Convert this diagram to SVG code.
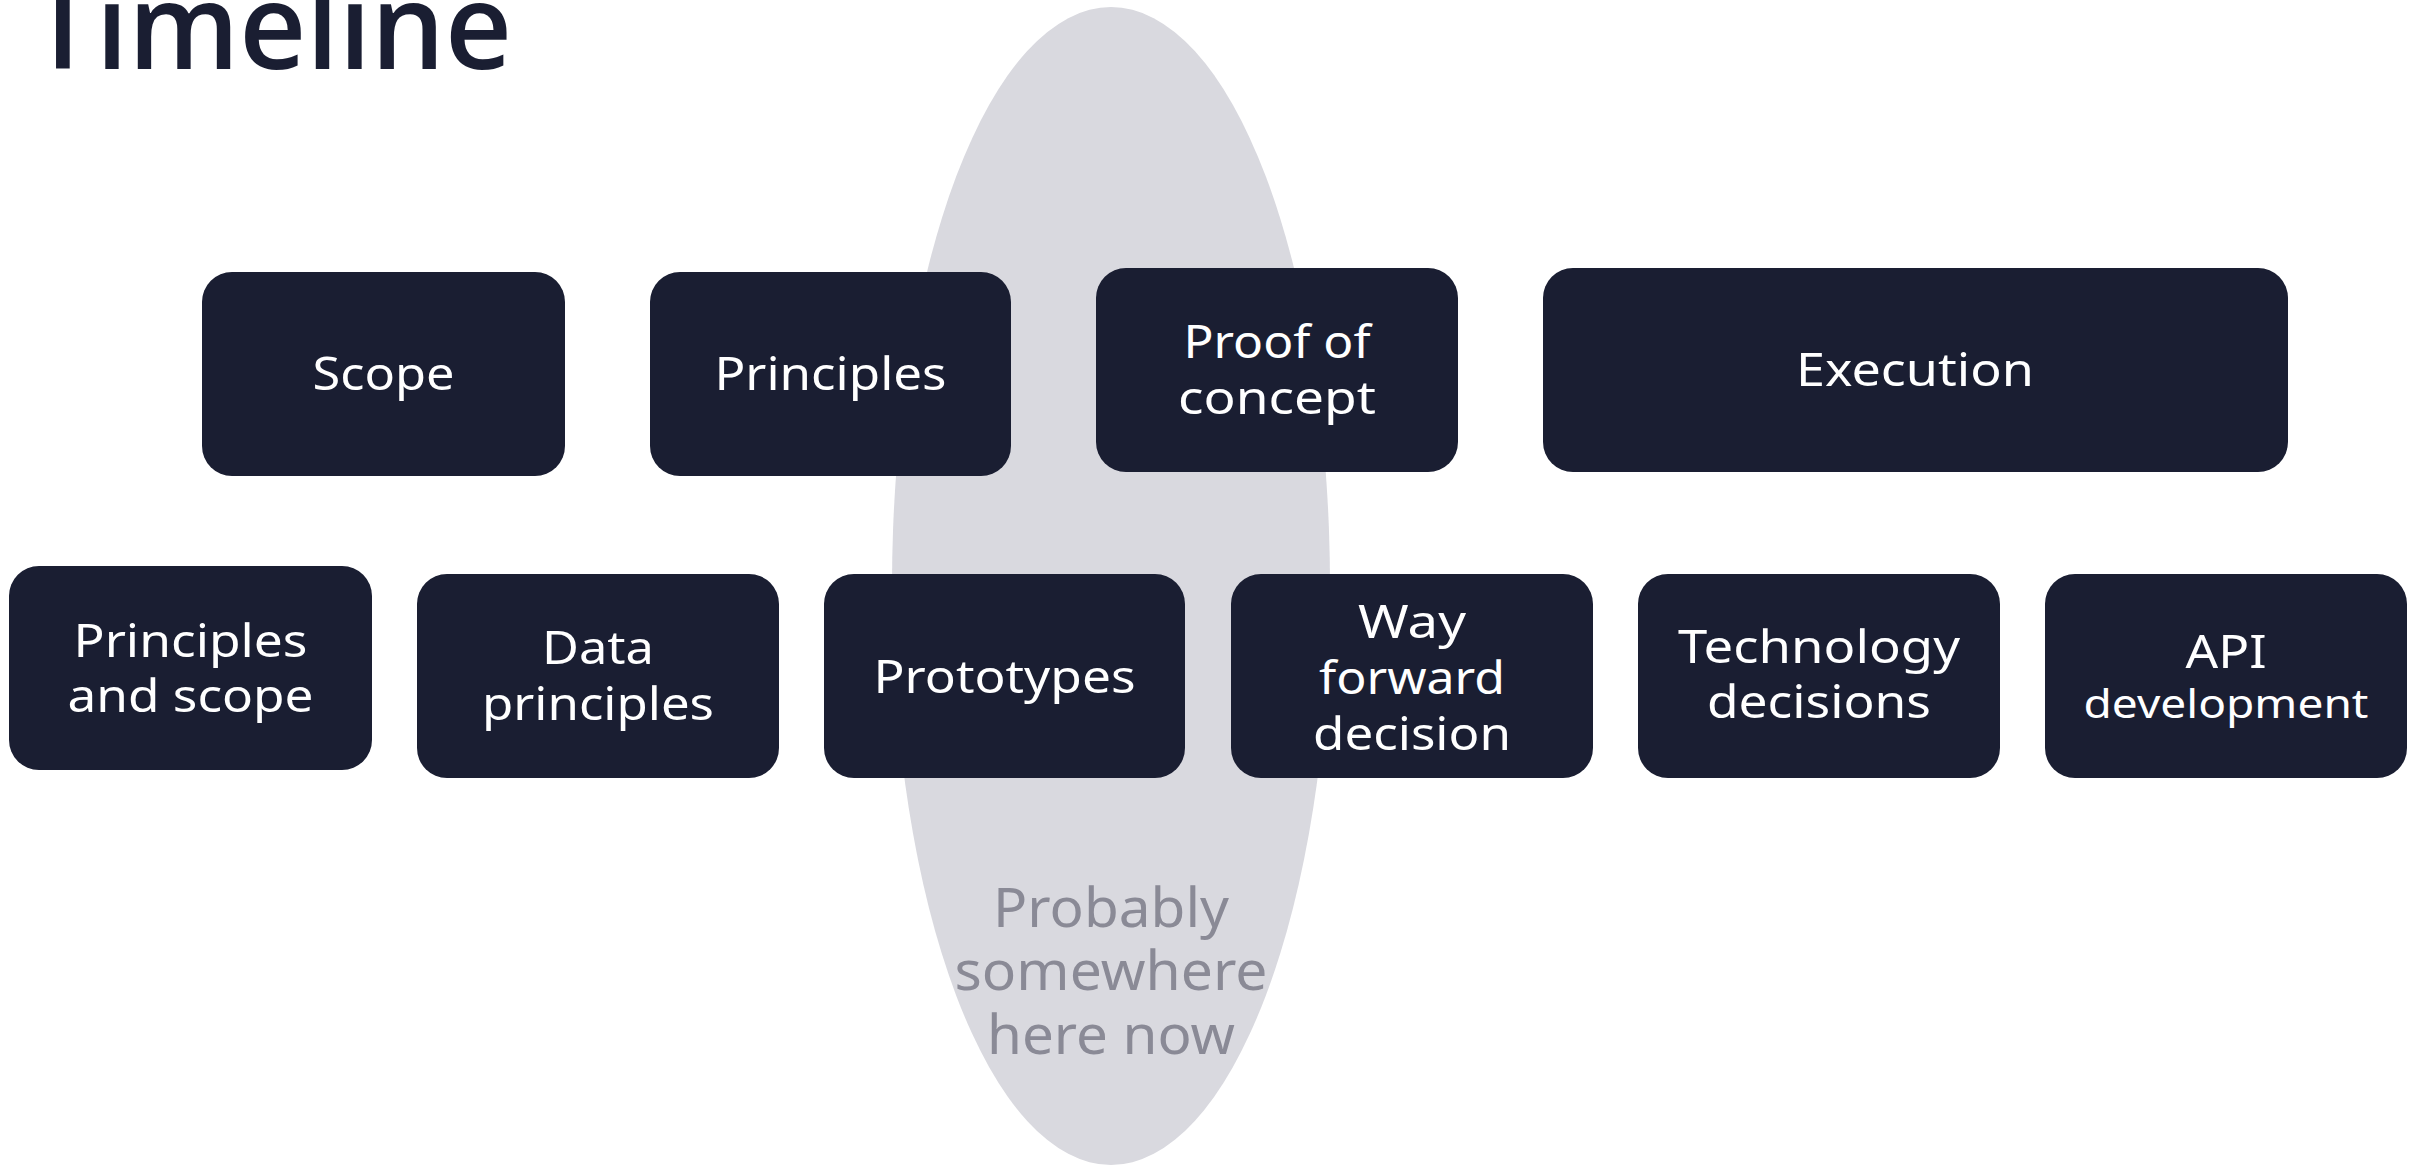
<svg xmlns="http://www.w3.org/2000/svg" width="2414" height="1165" viewBox="0 0 2414 1165">
  <style>
    .box { fill: #1a1e32; }
    .lbl { font-family: "Noto Sans", "Liberation Sans", sans-serif; font-size: 46px; fill: #ffffff; text-anchor: middle; }
    .small { font-size: 40px; }
    .note { font-family: "Noto Sans", "Liberation Sans", sans-serif; font-size: 54px; fill: #8a8a96; text-anchor: middle; }
    .title { font-family: "Open Sans", "Noto Sans", sans-serif; font-size: 120px; font-weight: 600; fill: #1a1e32; }
  </style>
  <rect width="2414" height="1165" fill="#ffffff"/>

  <!-- current-position marker -->
  <g id="now-marker">
    <ellipse cx="1111" cy="586" rx="219" ry="579" fill="#d9d9df"/>
  </g>

  <text class="title" x="30" y="69" textLength="482" lengthAdjust="spacingAndGlyphs">Timeline</text>

  <!-- upper row: phases -->
  <g id="scope">
    <rect class="box" x="202" y="272" width="363" height="204" rx="30"/>
    <text class="lbl" x="383.5" y="390" textLength="142" lengthAdjust="spacingAndGlyphs">Scope</text>
  </g>
  <g id="principles">
    <rect class="box" x="650" y="272" width="361" height="204" rx="30"/>
    <text class="lbl" x="830.5" y="390" textLength="232" lengthAdjust="spacingAndGlyphs">Principles</text>
  </g>
  <g id="proof-of-concept">
    <rect class="box" x="1096" y="268" width="362" height="204" rx="30"/>
    <text class="lbl" x="1277" y="358" textLength="187" lengthAdjust="spacingAndGlyphs">Proof of</text>
    <text class="lbl" x="1277" y="414" textLength="198" lengthAdjust="spacingAndGlyphs">concept</text>
  </g>
  <g id="execution">
    <rect class="box" x="1543" y="268" width="745" height="204" rx="30"/>
    <text class="lbl" x="1915" y="386" textLength="238" lengthAdjust="spacingAndGlyphs">Execution</text>
  </g>

  <!-- lower row: deliverables -->
  <g id="principles-and-scope">
    <rect class="box" x="9" y="566" width="363" height="204" rx="30"/>
    <text class="lbl" x="190.5" y="657" textLength="234" lengthAdjust="spacingAndGlyphs">Principles</text>
    <text class="lbl" x="190.5" y="712" textLength="246" lengthAdjust="spacingAndGlyphs">and scope</text>
  </g>
  <g id="data-principles">
    <rect class="box" x="417" y="574" width="362" height="204" rx="30"/>
    <text class="lbl" x="598" y="664" textLength="112" lengthAdjust="spacingAndGlyphs">Data</text>
    <text class="lbl" x="598" y="720" textLength="232" lengthAdjust="spacingAndGlyphs">principles</text>
  </g>
  <g id="prototypes">
    <rect class="box" x="824" y="574" width="361" height="204" rx="30"/>
    <text class="lbl" x="1004.5" y="693" textLength="262" lengthAdjust="spacingAndGlyphs">Prototypes</text>
  </g>
  <g id="way-forward-decision">
    <rect class="box" x="1231" y="574" width="362" height="204" rx="30"/>
    <text class="lbl" x="1412" y="638" textLength="108" lengthAdjust="spacingAndGlyphs">Way</text>
    <text class="lbl" x="1412" y="694" textLength="186" lengthAdjust="spacingAndGlyphs">forward</text>
    <text class="lbl" x="1412" y="750" textLength="198" lengthAdjust="spacingAndGlyphs">decision</text>
  </g>
  <g id="technology-decisions">
    <rect class="box" x="1638" y="574" width="362" height="204" rx="30"/>
    <text class="lbl" x="1819" y="663" textLength="282" lengthAdjust="spacingAndGlyphs">Technology</text>
    <text class="lbl" x="1819" y="718" textLength="224" lengthAdjust="spacingAndGlyphs">decisions</text>
  </g>
  <g id="api-development">
    <rect class="box" x="2045" y="574" width="362" height="204" rx="30"/>
    <text class="lbl" x="2226" y="668" textLength="81" lengthAdjust="spacingAndGlyphs">API</text>
    <text class="lbl small" x="2226" y="718" textLength="285" lengthAdjust="spacingAndGlyphs">development</text>
  </g>

  <!-- note inside the marker -->
  <g id="now-note">
    <text class="note" x="1111" y="927" textLength="236" lengthAdjust="spacingAndGlyphs">Probably</text>
    <text class="note" x="1111" y="990" textLength="313" lengthAdjust="spacingAndGlyphs">somewhere</text>
    <text class="note" x="1111" y="1054" textLength="248" lengthAdjust="spacingAndGlyphs">here now</text>
  </g>

  <g id="connectors"/>
</svg>
